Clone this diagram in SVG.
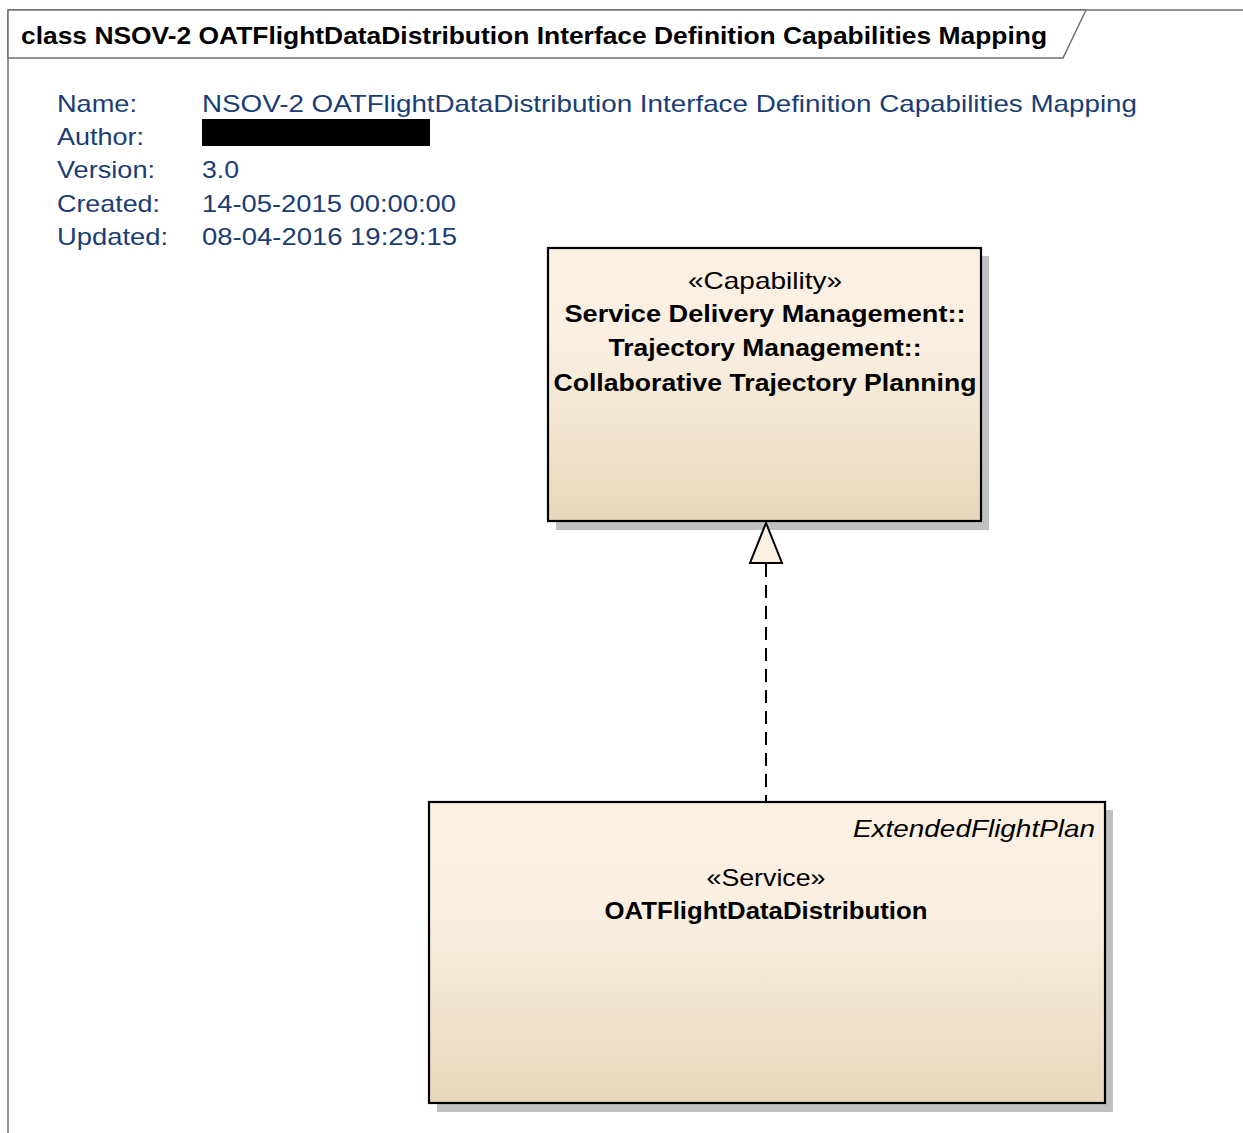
<svg xmlns="http://www.w3.org/2000/svg" width="1243" height="1133" viewBox="0 0 1243 1133">
  <style>
    .frame { fill: none; stroke: #707070; stroke-width: 1.5; }
    .tab { fill: #ffffff; stroke: #707070; stroke-width: 1.5; }
    text { font-family: "Liberation Sans", Arial, sans-serif; }
    .title { font-size: 24px; font-weight: bold; fill: #000; }
    .meta { font-size: 24px; fill: #1a3d73; }
    .box { fill: url(#nodeFill); stroke: #000; stroke-width: 2.2; }
    .shadow { fill: #c0c0c0; }
    .stereo { font-size: 24px; fill: #000; text-anchor: middle; }
    .name { font-size: 23px; font-weight: bold; fill: #000; text-anchor: middle; }
    .tag { font-size: 24px; font-style: italic; fill: #000; text-anchor: end; }
    .dep { stroke: #000; stroke-width: 2; fill: none; stroke-dasharray: 13 8; }
    .head { fill: #fbf0e2; stroke: #000; stroke-width: 2; stroke-linejoin: miter; }
  </style>
  <defs>
    <linearGradient id="nodeFill" x1="0" y1="0" x2="0" y2="1">
      <stop offset="0" stop-color="#fbf0e2"/>
      <stop offset="0.35" stop-color="#faefe1"/>
      <stop offset="1" stop-color="#e8d7bc"/>
    </linearGradient>
  </defs>

  <rect width="1243" height="1133" fill="#ffffff"/>

  <!-- diagram frame with name tab -->
  <g id="frame">
    <path class="frame" d="M8,10 H1243 M8,10 V1133"/>
    <path class="tab" d="M8,10 H1086 L1063,58 H8 Z"/>
    <text class="title" x="21" y="44" textLength="1026" lengthAdjust="spacingAndGlyphs">class NSOV-2 OATFlightDataDistribution Interface Definition Capabilities Mapping</text>
  </g>

  <!-- diagram properties -->
  <g id="properties">
    <text class="meta" x="57" y="112" textLength="80" lengthAdjust="spacingAndGlyphs">Name:</text>
    <text class="meta" x="202" y="112" textLength="935" lengthAdjust="spacingAndGlyphs">NSOV-2 OATFlightDataDistribution Interface Definition Capabilities Mapping</text>
    <text class="meta" x="57" y="145" textLength="87" lengthAdjust="spacingAndGlyphs">Author:</text>
    <rect x="202" y="119" width="228" height="27" fill="#000"/>
    <text class="meta" x="57" y="178" textLength="98" lengthAdjust="spacingAndGlyphs">Version:</text>
    <text class="meta" x="202" y="178" textLength="37" lengthAdjust="spacingAndGlyphs">3.0</text>
    <text class="meta" x="57" y="212" textLength="103" lengthAdjust="spacingAndGlyphs">Created:</text>
    <text class="meta" x="202" y="212" textLength="254" lengthAdjust="spacingAndGlyphs">14-05-2015 00:00:00</text>
    <text class="meta" x="57" y="245" textLength="111" lengthAdjust="spacingAndGlyphs">Updated:</text>
    <text class="meta" x="202" y="245" textLength="255" lengthAdjust="spacingAndGlyphs">08-04-2016 19:29:15</text>
  </g>

  <!-- capability node -->
  <g id="capability">
    <rect class="shadow" x="556" y="256" width="433" height="274"/>
    <rect class="box" x="548" y="248" width="433" height="273"/>
    <text class="stereo" x="765" y="289" textLength="154" lengthAdjust="spacingAndGlyphs">«Capability»</text>
    <text class="name" x="765" y="322" textLength="401" lengthAdjust="spacingAndGlyphs">Service Delivery Management::</text>
    <text class="name" x="765" y="356" textLength="313" lengthAdjust="spacingAndGlyphs">Trajectory Management::</text>
    <text class="name" x="765" y="391" textLength="423" lengthAdjust="spacingAndGlyphs">Collaborative Trajectory Planning</text>
  </g>

  <!-- service node -->
  <g id="service">
    <rect class="shadow" x="437" y="810" width="676" height="302"/>
    <rect class="box" x="429" y="802" width="676" height="301"/>
    <text class="tag" x="1095" y="837" textLength="242" lengthAdjust="spacingAndGlyphs">ExtendedFlightPlan</text>
    <text class="stereo" x="766" y="886" textLength="119" lengthAdjust="spacingAndGlyphs">«Service»</text>
    <text class="name" x="766" y="919" textLength="323" lengthAdjust="spacingAndGlyphs">OATFlightDataDistribution</text>
  </g>

  <!-- connectors: realization from service to capability -->
  <g id="connectors">
    <line class="dep" x1="766" y1="564" x2="766" y2="801"/>
    <polygon class="head" points="766,523 750,563 782,563"/>
  </g>
</svg>
